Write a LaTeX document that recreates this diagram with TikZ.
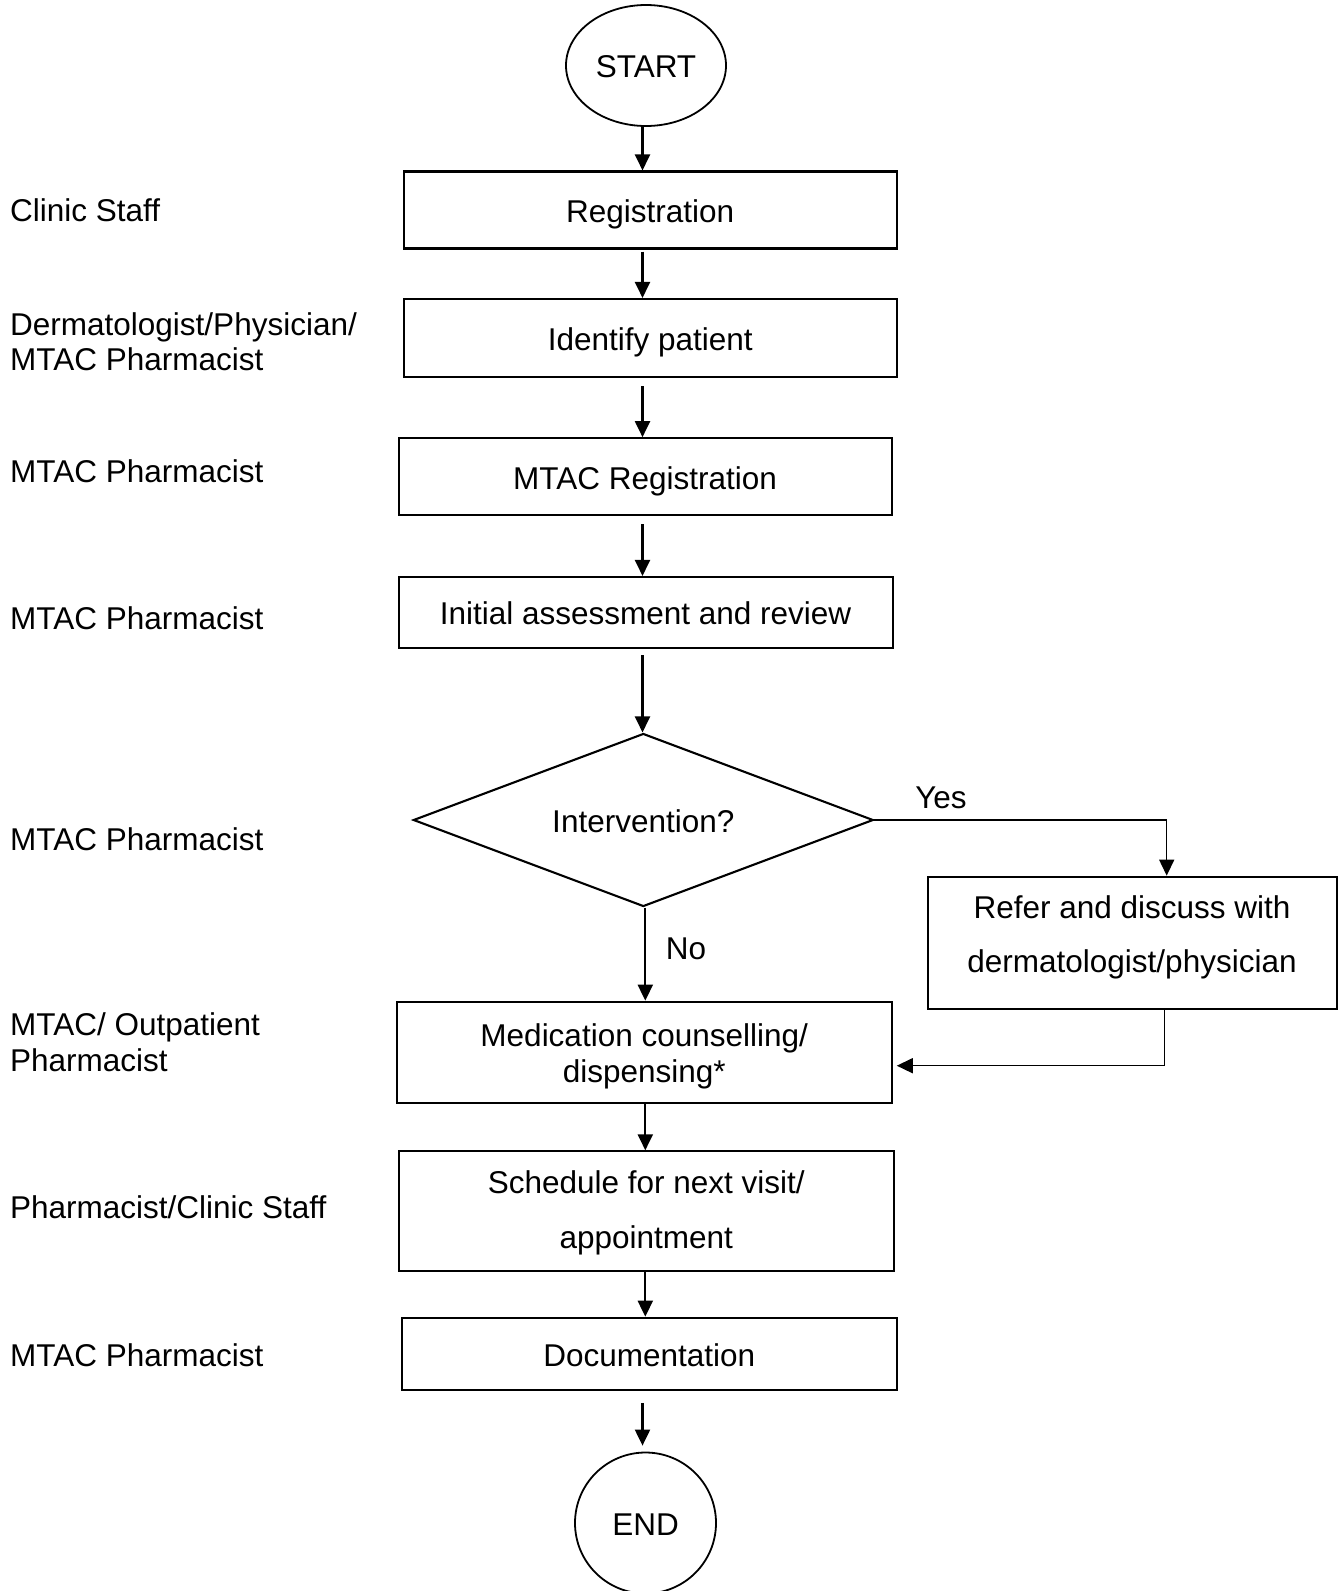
\documentclass[tikz,border=0pt]{standalone}
\usepackage{fontspec}
\setmainfont{Liberation Sans}
\usetikzlibrary{arrows.meta,shapes.geometric}
\begin{document}
\begin{tikzpicture}[x=1pt,y=-1pt,
  every node/.style={font=\fontsize{31.5}{35.5}\selectfont, text=black, inner sep=0pt},
  onel/.style={text height=24.6pt, text depth=0pt},
  stepbox/.style={draw, line width=2.1pt, rectangle, align=center},
  lane/.style={anchor=west, align=left},
  arr/.style={line width=2.1pt, -{Triangle[length=16pt,width=15pt]}},
  thinarr/.style={line width=1.5pt, -{Triangle[length=16pt,width=15pt]}},
  wide/.style={font=\fontsize{31.5}{54.5}\selectfont}
]
\useasboundingbox (0,0) rectangle (1343,1591);

% terminals
\node[draw, ellipse, onel, line width=1.8pt, minimum width=160pt, minimum height=121pt] (start) at (646,65.5) {START};
\node[draw, circle, onel, line width=1.8pt, minimum size=141pt] (end) at (645.5,1523) {END};

% process boxes
\node[stepbox, onel, minimum width=493pt, minimum height=77pt] (reg) at (650.2,210) {Registration};
\node[stepbox, onel, minimum width=493pt, minimum height=78pt] (ident) at (650.2,338) {Identify patient};
\node[stepbox, onel, minimum width=493pt, minimum height=77pt] (mreg) at (645.1,476.7) {MTAC Registration};
\node[stepbox, onel, minimum width=494pt, minimum height=71pt] (init) at (645.6,612.5) {Initial assessment and review};
\node[draw, diamond, onel, line width=2.1pt, aspect=2.66, minimum width=460pt, minimum height=173pt] (dia) at (643.3,820) {Intervention?};
\node[stepbox, minimum width=495pt, minimum height=101.6pt] (med) at (644.2,1052.5) {};
\node[align=center] (medtxt) at (644.2,1056.5) {Medication counselling/\\dispensing*};
\node[stepbox, minimum width=495pt, minimum height=119.7pt] (sched) at (646.2,1211.2) {};
\node[wide, align=center] (schedtxt) at (646.2,1213) {Schedule for next visit/\\appointment};
\node[stepbox, onel, minimum width=495pt, minimum height=72pt] (doc) at (649.2,1353.7) {Documentation};
\node[stepbox, minimum width=408.4pt, minimum height=132.6pt] (refer) at (1132.5,943) {};
\node[wide, align=center] (refertxt) at (1132,937.5) {Refer and discuss with\\dermatologist/physician};

% lane labels
\node[lane] (l1) at (10,210) {Clinic Staff};
\node[lane] (l2) at (10,341.8) {Dermatologist/Physician/\\MTAC Pharmacist};
\node[lane] (l3) at (10,471.5) {MTAC Pharmacist};
\node[lane] (l4) at (10,617.8) {MTAC Pharmacist};
\node[lane] (l5) at (10,839) {MTAC Pharmacist};
\node[lane] (l6) at (10,1042.3) {MTAC/ Outpatient\\Pharmacist};
\node[lane] (l7) at (10,1207) {Pharmacist/Clinic Staff};
\node[lane] (l8) at (10,1355) {MTAC Pharmacist};

% branch labels
\node (yes) at (941,798) {Yes};
\node (no) at (686,948.5) {No};

% connectors
\coordinate (ax) at (642.5,0);
\coordinate (bx) at (645.3,0);
\coordinate (yx) at (1166.7,0);
\coordinate (rx) at (1164.3,0);
\coordinate (ry) at (0,1065.7);

\draw[arr] (ax |- start.south) -- (ax |- reg.north);
\draw[arr, shorten <=2pt] (ax |- reg.south) -- (ax |- ident.north);
\draw[arr, shorten <=8pt] (ax |- ident.south) -- (ax |- mreg.north);
\draw[arr, shorten <=8pt] (ax |- mreg.south) -- (ax |- init.north);
\draw[arr, shorten <=6pt] (ax |- init.south) -- (ax |- dia.north);
\draw[arr] (bx |- dia.south) -- (bx |- med.north);
\draw[arr] (bx |- med.south) -- (bx |- sched.north);
\draw[arr] (bx |- sched.south) -- (bx |- doc.north);
\draw[arr, shorten <=12pt, shorten >=6pt] (ax |- doc.south) -- (ax |- end.north);

\draw[thinarr] (dia.east) -- (yx |- dia.east) -- (yx |- refer.north);
\draw[thinarr, shorten >=4pt] (rx |- refer.south) -- (rx |- ry) -- (med.east |- ry);
\end{tikzpicture}
\end{document}
